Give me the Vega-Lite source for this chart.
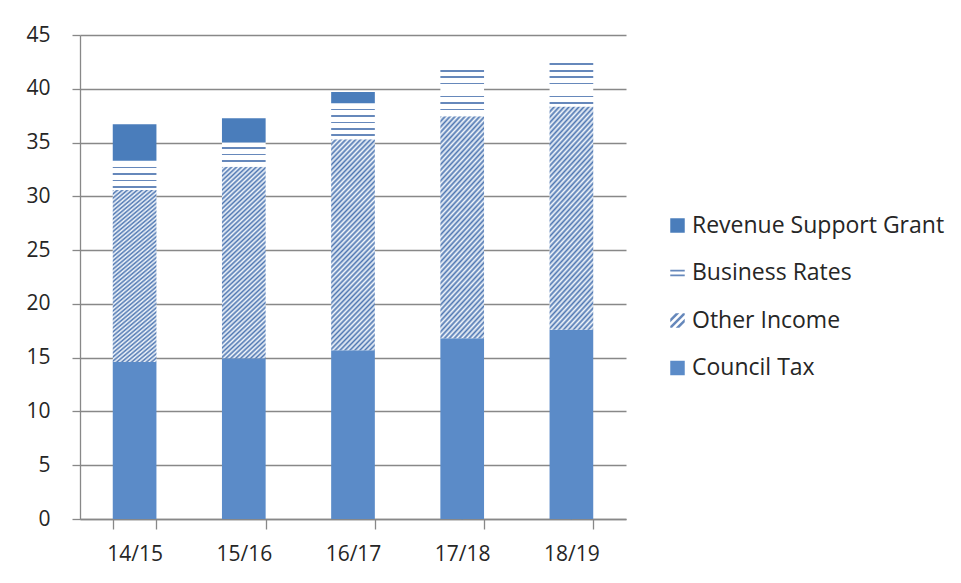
{
 "$schema": "https://vega.github.io/schema/vega-lite/v6.json",
 "width": 546, "height": 484,
 "autosize": {"type": "none"},
 "padding": {"left": 80, "top": 35, "right": 335, "bottom": 64},
 "background": "white",
 "data": {"values": [
  {"year":"14/15","series":"Council Tax","value":14.6},
  {"year":"14/15","series":"Other Income","value":16.0},
  {"year":"14/15","series":"Business Rates","value":2.7},
  {"year":"14/15","series":"Revenue Support Grant","value":3.4},
  {"year":"15/16","series":"Council Tax","value":14.95},
  {"year":"15/16","series":"Other Income","value":17.8},
  {"year":"15/16","series":"Business Rates","value":2.25},
  {"year":"15/16","series":"Revenue Support Grant","value":2.25},
  {"year":"16/17","series":"Council Tax","value":15.7},
  {"year":"16/17","series":"Other Income","value":19.6},
  {"year":"16/17","series":"Business Rates","value":3.35},
  {"year":"16/17","series":"Revenue Support Grant","value":1.05},
  {"year":"17/18","series":"Council Tax","value":16.8},
  {"year":"17/18","series":"Other Income","value":20.65},
  {"year":"17/18","series":"Business Rates","value":4.45},
  {"year":"17/18","series":"Revenue Support Grant","value":0},
  {"year":"18/19","series":"Council Tax","value":17.6},
  {"year":"18/19","series":"Other Income","value":20.75},
  {"year":"18/19","series":"Business Rates","value":4.15},
  {"year":"18/19","series":"Revenue Support Grant","value":0}
 ]},
 "transform": [
  {"calculate": "indexof(['Council Tax','Other Income','Business Rates','Revenue Support Grant'], datum.series)", "as": "stackOrder"}
 ],
 "encoding": {
  "x": {"field": "year", "type": "nominal", "sort": null,
   "scale": {"paddingInner": 0.6, "paddingOuter": 0.3},
   "axis": {"title": null, "labelAngle": 0, "tickBand": "extent", "tickSize": 10, "labelPadding": 14, "grid": false}}
 },
 "layer": [
  {
   "mark": {"type": "point", "filled": true, "size": 1, "color": "#5585c2", "opacity": 1, "strokeWidth": 0},
   "encoding": {
    "y": {"field": "value", "type": "quantitative", "stack": null, "scale": {"domain": [0, 45], "nice": false},
     "axis": {"title": null, "values": [0,5,10,15,20,25,30,35,40,45], "tickSize": 8, "labelPadding": 22, "grid": true}},
    "shape": {"field": "series", "type": "nominal",
     "scale": {"domain": ["Revenue Support Grant","Business Rates","Other Income","Council Tax"],
      "range": ["square", "M-1,-0.46H1V-0.21H-1Z M-1,0.21H1V0.46H-1Z", "M-1,-0.25L-0.25,-1L0.25,-1L-1,0.25Z M-1,0.75L0.75,-1L1,-1L1,-0.75L-0.75,1L-1,1Z M-0.25,1L1,-0.25L1,0.25L0.25,1Z", "square"]},
     "legend": {"orient": "none", "legendX": 586, "legendY": 179, "title": null, "symbolSize": 210, "symbolStrokeWidth": 0, "symbolFillColor": "#5585c2", "symbolOpacity": 1, "labelFontSize": 23, "labelOffset": 3, "labelLimit": 400, "rowPadding": 23.5, "padding": 0, "labelColor": "#262626"}}
   }
  },
  {
   "mark": {"type": "bar", "strokeWidth": 0, "opacity": 1},
   "encoding": {
    "y": {"field": "value", "type": "quantitative", "stack": "zero",
     "scale": {"domain": [0, 45], "nice": false},
     "axis": {"title": null, "values": [0,5,10,15,20,25,30,35,40,45], "tickSize": 8, "labelPadding": 22, "grid": true}},
    "order": {"field": "stackOrder", "type": "quantitative"},
    "fill": {"field": "series", "type": "nominal",
     "scale": {"domain": ["Revenue Support Grant","Business Rates","Other Income","Council Tax"], "range": ["#4a7dbb","#6688bb","#6688bb","#5b8bc8"]},
     "legend": null,
     "condition": [
      {"test": "datum.series === 'Business Rates' && datum.year === '14/15'", "value": {"gradient":"linear","x1":0,"y1":0,"x2":0,"y2":1,"stops":[{"offset":0,"color":"#fff"},{"offset":0.2015,"color":"#fff"},{"offset":0.2015,"color":"#68b"},{"offset":0.2565,"color":"#68b"},{"offset":0.2565,"color":"#fff"},{"offset":0.4235,"color":"#fff"},{"offset":0.4235,"color":"#68b"},{"offset":0.4785,"color":"#68b"},{"offset":0.4785,"color":"#fff"},{"offset":0.6465,"color":"#fff"},{"offset":0.6465,"color":"#68b"},{"offset":0.7015,"color":"#68b"},{"offset":0.7015,"color":"#fff"},{"offset":0.8685,"color":"#fff"},{"offset":0.8685,"color":"#68b"},{"offset":0.9235,"color":"#68b"},{"offset":0.9235,"color":"#fff"},{"offset":1,"color":"#fff"}]}},
      {"test": "datum.series === 'Business Rates' && datum.year === '15/16'", "value": {"gradient":"linear","x1":0,"y1":0,"x2":0,"y2":1,"stops":[{"offset":0,"color":"#fff"},{"offset":0.198,"color":"#fff"},{"offset":0.198,"color":"#68b"},{"offset":0.264,"color":"#68b"},{"offset":0.264,"color":"#fff"},{"offset":0.465,"color":"#fff"},{"offset":0.465,"color":"#68b"},{"offset":0.531,"color":"#68b"},{"offset":0.531,"color":"#fff"},{"offset":0.731,"color":"#fff"},{"offset":0.731,"color":"#68b"},{"offset":0.797,"color":"#68b"},{"offset":0.797,"color":"#fff"},{"offset":1,"color":"#fff"}]}},
      {"test": "datum.series === 'Business Rates' && datum.year === '16/17'", "value": {"gradient":"linear","x1":0,"y1":0,"x2":0,"y2":1,"stops":[{"offset":0,"color":"#fff"},{"offset":0.149,"color":"#fff"},{"offset":0.149,"color":"#68b"},{"offset":0.193,"color":"#68b"},{"offset":0.193,"color":"#fff"},{"offset":0.328,"color":"#fff"},{"offset":0.328,"color":"#68b"},{"offset":0.372,"color":"#68b"},{"offset":0.372,"color":"#fff"},{"offset":0.507,"color":"#fff"},{"offset":0.507,"color":"#68b"},{"offset":0.551,"color":"#68b"},{"offset":0.551,"color":"#fff"},{"offset":0.686,"color":"#fff"},{"offset":0.686,"color":"#68b"},{"offset":0.73,"color":"#68b"},{"offset":0.73,"color":"#fff"},{"offset":0.865,"color":"#fff"},{"offset":0.865,"color":"#68b"},{"offset":0.909,"color":"#68b"},{"offset":0.909,"color":"#fff"},{"offset":1,"color":"#fff"}]}},
      {"test": "datum.series === 'Business Rates' && datum.year === '17/18'", "value": {"gradient":"linear","x1":0,"y1":0,"x2":0,"y2":1,"stops":[{"offset":0,"color":"#fff"},{"offset":0.033,"color":"#fff"},{"offset":0.033,"color":"#68b"},{"offset":0.067,"color":"#68b"},{"offset":0.067,"color":"#fff"},{"offset":0.168,"color":"#fff"},{"offset":0.168,"color":"#68b"},{"offset":0.202,"color":"#68b"},{"offset":0.202,"color":"#fff"},{"offset":0.303,"color":"#fff"},{"offset":0.303,"color":"#68b"},{"offset":0.337,"color":"#68b"},{"offset":0.337,"color":"#fff"},{"offset":0.572,"color":"#fff"},{"offset":0.572,"color":"#68b"},{"offset":0.606,"color":"#68b"},{"offset":0.606,"color":"#fff"},{"offset":0.707,"color":"#fff"},{"offset":0.707,"color":"#68b"},{"offset":0.741,"color":"#68b"},{"offset":0.741,"color":"#fff"},{"offset":0.842,"color":"#fff"},{"offset":0.842,"color":"#68b"},{"offset":0.876,"color":"#68b"},{"offset":0.876,"color":"#fff"},{"offset":1,"color":"#fff"}]}},
      {"test": "datum.series === 'Business Rates' && datum.year === '18/19'", "value": {"gradient":"linear","x1":0,"y1":0,"x2":0,"y2":1,"stops":[{"offset":0,"color":"#fff"},{"offset":0.036,"color":"#fff"},{"offset":0.036,"color":"#68b"},{"offset":0.072,"color":"#68b"},{"offset":0.072,"color":"#fff"},{"offset":0.181,"color":"#fff"},{"offset":0.181,"color":"#68b"},{"offset":0.217,"color":"#68b"},{"offset":0.217,"color":"#fff"},{"offset":0.325,"color":"#fff"},{"offset":0.325,"color":"#68b"},{"offset":0.361,"color":"#68b"},{"offset":0.361,"color":"#fff"},{"offset":0.47,"color":"#fff"},{"offset":0.47,"color":"#68b"},{"offset":0.506,"color":"#68b"},{"offset":0.506,"color":"#fff"},{"offset":0.759,"color":"#fff"},{"offset":0.759,"color":"#68b"},{"offset":0.795,"color":"#68b"},{"offset":0.795,"color":"#fff"},{"offset":0.903,"color":"#fff"},{"offset":0.903,"color":"#68b"},{"offset":0.939,"color":"#68b"},{"offset":0.939,"color":"#fff"},{"offset":1,"color":"#fff"}]}},
      {"test": "datum.series === 'Other Income'", "value": {"gradient":"linear","x1":0,"y1":0,"x2":0.249,"y2":1.161,"stops":[
{"offset":0,"color":"#4f77b2"},{"offset":0.01,"color":"#f4f8fc"},{"offset":0.02,"color":"#4f77b2"},{"offset":0.03,"color":"#f4f8fc"},
{"offset":0.04,"color":"#4f77b2"},{"offset":0.05,"color":"#f4f8fc"},{"offset":0.06,"color":"#4f77b2"},{"offset":0.07,"color":"#f4f8fc"},
{"offset":0.08,"color":"#4f77b2"},{"offset":0.09,"color":"#f4f8fc"},{"offset":0.10,"color":"#4f77b2"},{"offset":0.11,"color":"#f4f8fc"},
{"offset":0.12,"color":"#4f77b2"},{"offset":0.13,"color":"#f4f8fc"},{"offset":0.14,"color":"#4f77b2"},{"offset":0.15,"color":"#f4f8fc"},
{"offset":0.16,"color":"#4f77b2"},{"offset":0.17,"color":"#f4f8fc"},{"offset":0.18,"color":"#4f77b2"},{"offset":0.19,"color":"#f4f8fc"},
{"offset":0.20,"color":"#4f77b2"},{"offset":0.21,"color":"#f4f8fc"},{"offset":0.22,"color":"#4f77b2"},{"offset":0.23,"color":"#f4f8fc"},
{"offset":0.24,"color":"#4f77b2"},{"offset":0.25,"color":"#f4f8fc"},{"offset":0.26,"color":"#4f77b2"},{"offset":0.27,"color":"#f4f8fc"},
{"offset":0.28,"color":"#4f77b2"},{"offset":0.29,"color":"#f4f8fc"},{"offset":0.30,"color":"#4f77b2"},{"offset":0.31,"color":"#f4f8fc"},
{"offset":0.32,"color":"#4f77b2"},{"offset":0.33,"color":"#f4f8fc"},{"offset":0.34,"color":"#4f77b2"},{"offset":0.35,"color":"#f4f8fc"},
{"offset":0.36,"color":"#4f77b2"},{"offset":0.37,"color":"#f4f8fc"},{"offset":0.38,"color":"#4f77b2"},{"offset":0.39,"color":"#f4f8fc"},
{"offset":0.40,"color":"#4f77b2"},{"offset":0.41,"color":"#f4f8fc"},{"offset":0.42,"color":"#4f77b2"},{"offset":0.43,"color":"#f4f8fc"},
{"offset":0.44,"color":"#4f77b2"},{"offset":0.45,"color":"#f4f8fc"},{"offset":0.46,"color":"#4f77b2"},{"offset":0.47,"color":"#f4f8fc"},
{"offset":0.48,"color":"#4f77b2"},{"offset":0.49,"color":"#f4f8fc"},{"offset":0.50,"color":"#4f77b2"},{"offset":0.51,"color":"#f4f8fc"},
{"offset":0.52,"color":"#4f77b2"},{"offset":0.53,"color":"#f4f8fc"},{"offset":0.54,"color":"#4f77b2"},{"offset":0.55,"color":"#f4f8fc"},
{"offset":0.56,"color":"#4f77b2"},{"offset":0.57,"color":"#f4f8fc"},{"offset":0.58,"color":"#4f77b2"},{"offset":0.59,"color":"#f4f8fc"},
{"offset":0.60,"color":"#4f77b2"},{"offset":0.61,"color":"#f4f8fc"},{"offset":0.62,"color":"#4f77b2"},{"offset":0.63,"color":"#f4f8fc"},
{"offset":0.64,"color":"#4f77b2"},{"offset":0.65,"color":"#f4f8fc"},{"offset":0.66,"color":"#4f77b2"},{"offset":0.67,"color":"#f4f8fc"},
{"offset":0.68,"color":"#4f77b2"},{"offset":0.69,"color":"#f4f8fc"},{"offset":0.70,"color":"#4f77b2"},{"offset":0.71,"color":"#f4f8fc"},
{"offset":0.72,"color":"#4f77b2"},{"offset":0.73,"color":"#f4f8fc"},{"offset":0.74,"color":"#4f77b2"},{"offset":0.75,"color":"#f4f8fc"},
{"offset":0.76,"color":"#4f77b2"},{"offset":0.77,"color":"#f4f8fc"},{"offset":0.78,"color":"#4f77b2"},{"offset":0.79,"color":"#f4f8fc"},
{"offset":0.80,"color":"#4f77b2"},{"offset":0.81,"color":"#f4f8fc"},{"offset":0.82,"color":"#4f77b2"},{"offset":0.83,"color":"#f4f8fc"},
{"offset":0.84,"color":"#4f77b2"},{"offset":0.85,"color":"#f4f8fc"},{"offset":0.86,"color":"#4f77b2"},{"offset":0.87,"color":"#f4f8fc"},
{"offset":0.88,"color":"#4f77b2"},{"offset":0.89,"color":"#f4f8fc"},{"offset":0.90,"color":"#4f77b2"},{"offset":0.91,"color":"#f4f8fc"},
{"offset":0.92,"color":"#4f77b2"},{"offset":0.93,"color":"#f4f8fc"},{"offset":0.94,"color":"#4f77b2"},{"offset":0.95,"color":"#f4f8fc"},
{"offset":0.96,"color":"#4f77b2"},{"offset":0.97,"color":"#f4f8fc"},{"offset":0.98,"color":"#4f77b2"},{"offset":0.99,"color":"#f4f8fc"},
{"offset":1,"color":"#4f77b2"}
      ]}}
     ]
    }
   }
  }
 ],
 "config": {
  "font": "Open Sans",
  "view": {"stroke": null},
  "axis": {"labelFontSize": 21, "labelColor": "#262626", "domainColor": "#888", "tickColor": "#888", "gridColor": "#888", "domainWidth": 1.3, "tickWidth": 1.3, "gridWidth": 1.3, "labelFont": "Open Sans"},
  "legend": {"labelFont": "Open Sans"}
 }
}
